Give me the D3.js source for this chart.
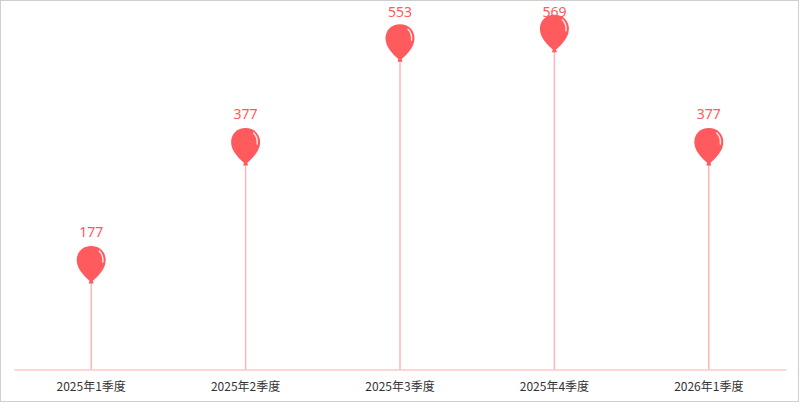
<!DOCTYPE html>
<html>
<head>
<meta charset="utf-8">
<script src="https://cdn.jsdelivr.net/npm/d3@7"></script>
<style>
  body { margin: 0; background: #fff; }
  svg { display: block; }
</style>
</head>
<body>
<div id="chart"></div>
<script>
// Dados
const categories = ["2025年1季度", "2025年2季度", "2025年3季度", "2025年4季度", "2026年1季度"];
const values = [177, 377, 553, 569, 377];
const yDomain = [0, 600];

const W = 800, H = 410;
const margin = { top: 15.5, right: 14, bottom: 40.5, left: 14 };

const svg = d3.select("#chart")
    .append("svg")
    .attr("width", W)
    .attr("height", H);

// Moldura
svg.append("rect")
    .attr("x", 0.5).attr("y", 0.5)
    .attr("width", 798).attr("height", 401)
    .attr("fill", "none")
    .attr("stroke", "#cfcfcf");

const x = d3.scaleBand()
    .domain(categories)
    .range([margin.left, W - margin.right]);

const y = d3.scaleLinear()
    .domain(yDomain)
    .range([369.5, margin.top]);

// Eixo X
const xAxis = svg.append("g")
    .attr("transform", `translate(0,${y(0)})`)
    .call(d3.axisBottom(x).tickSize(0).tickPadding(13));
xAxis.select(".domain").attr("stroke", "#ffc9c9").attr("stroke-width", 1.5);
xAxis.selectAll("text")
    .attr("fill", "#333")
    .attr("font-size", "12px")
    .attr("font-family", "'Noto Sans CJK SC', 'Noto Sans', sans-serif");

const data = categories.map((c, i) => ({ cat: c, value: values[i] }));
const cx = d => x(d.cat) + x.bandwidth() / 2;

// Hastes
svg.selectAll(".stem")
    .data(data)
    .enter()
    .append("line")
    .attr("class", "stem")
    .attr("x1", cx).attr("x2", cx)
    .attr("y1", y(0))
    .attr("y2", d => y(d.value) + 18)
    .attr("stroke", "#ffb5b5")
    .attr("stroke-width", 1.5);

// Balões
const body = "M0,-19 C8.5,-19 14.5,-13 14.5,-5 C14.5,4 7,11 1.5,16 L-1.5,16 C-7,11 -14.5,4 -14.5,-5 C-14.5,-13 -8.5,-19 0,-19 Z";
const knot = "M-1.5,15.5 L1.5,15.5 L2.5,18.5 L-2.5,18.5 Z";
const shine = "M8,-14 Q12.5,-9.5 11.5,-3";

const balloons = svg.selectAll(".balloon")
    .data(data)
    .enter()
    .append("g")
    .attr("class", "balloon")
    .attr("transform", d => `translate(${cx(d)},${y(d.value)})`);

balloons.append("path").attr("d", body).attr("fill", "#ff5a5d");
balloons.append("path").attr("d", knot).attr("fill", "#ff5a5d");
balloons.append("path").attr("d", shine)
    .attr("fill", "none")
    .attr("stroke", "#fff")
    .attr("stroke-width", 1.4)
    .attr("stroke-linecap", "round")
    .attr("opacity", 0.85);

// Rótulos
svg.selectAll(".label")
    .data(data)
    .enter()
    .append("text")
    .attr("class", "label")
    .attr("x", cx)
    .attr("y", d => Math.max(y(d.value) - 28, 17))
    .attr("text-anchor", "middle")
    .attr("fill", "#ff5a5d")
    .attr("font-size", "14px")
    .attr("font-family", "'Noto Sans', sans-serif")
    .text(d => d.value);
</script>
</body>
</html>
